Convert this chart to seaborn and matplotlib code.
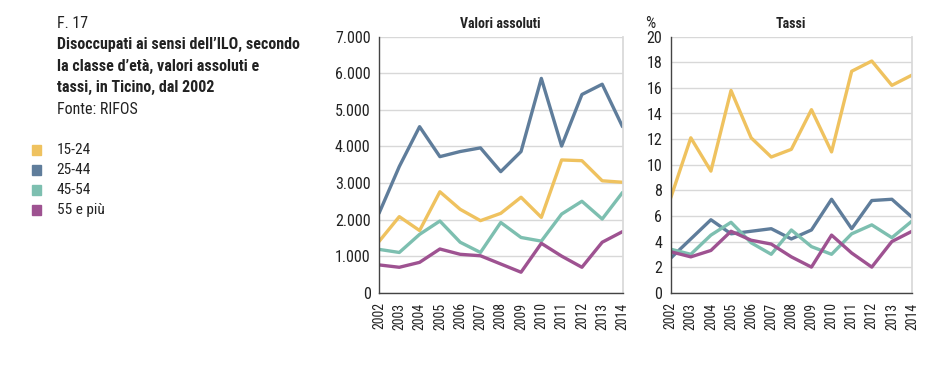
import matplotlib
matplotlib.use("Agg")
import matplotlib.pyplot as plt
import seaborn as sns
import pandas as pd
from matplotlib.ticker import FuncFormatter

years = list(range(2002, 2015))
groups = ["15-24", "25-44", "45-54", "55 e più"]

abs_15_24 = [1400, 2080, 1700, 2760, 2280, 1970, 2170, 2610, 2060, 3630, 3610, 3060, 3020]
abs_25_44 = [2170, 3450, 4540, 3720, 3860, 3960, 3310, 3860, 5860, 4010, 5420, 5700, 4540]
abs_45_54 = [1185, 1100, 1595, 1960, 1380, 1100, 1920, 1510, 1410, 2150, 2500, 2015, 2740]
abs_55 = [760, 695, 830, 1195, 1050, 1010, 785, 560, 1350, 1000, 695, 1380, 1670]

rate_15_24 = [7.4, 12.1, 9.5, 15.8, 12.1, 10.6, 11.2, 14.3, 11.0, 17.3, 18.1, 16.2, 17.0]
rate_25_44 = [2.7, 4.2, 5.7, 4.6, 4.8, 5.0, 4.2, 4.9, 7.3, 5.0, 7.2, 7.3, 5.9]
rate_45_54 = [3.4, 3.0, 4.5, 5.5, 3.9, 3.0, 4.9, 3.6, 3.0, 4.6, 5.3, 4.3, 5.6]
rate_55 = [3.2, 2.8, 3.3, 4.8, 4.1, 3.8, 2.8, 2.0, 4.5, 3.1, 2.0, 4.0, 4.8]

colors = ["#EFC25F", "#5F7D9B", "#7DBFB0", "#9E5291"]

def long(series):
    rows = []
    for g, vals in zip(groups, series):
        for y, v in zip(years, vals):
            rows.append({"anno": y, "gruppo": g, "valore": v})
    return pd.DataFrame(rows)

df_abs = long([abs_15_24, abs_25_44, abs_45_54, abs_55])
df_rate = long([rate_15_24, rate_25_44, rate_45_54, rate_55])

sns.set_theme(style="white")
plt.rcParams['font.family'] = ['Roboto Condensed', 'Liberation Sans', 'DejaVu Sans']

TXT = "#222222"
fig = plt.figure(figsize=(9.46, 3.71), dpi=100)
W, H = 946, 371

def add_ax(x0, x1, y0, y1):
    return fig.add_axes([x0 / W, 1 - y1 / H, (x1 - x0) / W, (y1 - y0) / H])

ax1 = add_ax(379, 622.5, 36.7, 292.7)
ax2 = add_ax(670.7, 912, 36.7, 292.7)

pal = dict(zip(groups, colors))
sns.lineplot(data=df_abs, x="anno", y="valore", hue="gruppo", palette=pal, ax=ax1,
             linewidth=2.4, legend=False)
sns.lineplot(data=df_rate, x="anno", y="valore", hue="gruppo", palette=pal, ax=ax2,
             linewidth=2.4, legend=False)

for ax, top, step in [(ax1, 7000, 1000), (ax2, 20, 2)]:
    ax.set_xlim(2002, 2014)
    ax.set_ylim(0, top)
    ax.set_yticks(range(0, top + 1, step))
    ax.set_xticks(years)
    ax.set_xticklabels([str(y) for y in years], rotation=90, fontsize=10, color=TXT)
    ax.tick_params(axis="y", labelsize=11.5, length=4, width=0.8, pad=2)
    ax.tick_params(axis="x", length=5, width=0.8, pad=2)
    ax.tick_params(axis="both", labelcolor=TXT, color="#444444")
    ax.grid(axis="y", color="#D8D8D8", linewidth=1)
    ax.set_axisbelow(True)
    for s in ("left", "bottom"):
        ax.spines[s].set_color("#444444")
        ax.spines[s].set_linewidth(1)
    ax.spines["right"].set_color("#D8D8D8")
    ax.spines["top"].set_visible(False)
    ax.set_xlabel("")
    ax.set_ylabel("")

ax1.yaxis.set_major_formatter(FuncFormatter(lambda v, p: "0" if v == 0 else f"{int(v):,}".replace(",", ".")))
ax1.set_title("Valori assoluti", fontsize=10, fontweight="bold", color=TXT, pad=6)
ax2.set_title("Tassi", fontsize=10, fontweight="bold", color=TXT, pad=6)
fig.text(645 / W, 1 - 23 / H, "%", fontsize=11.5, color=TXT, va="center", ha="left")

X0 = 56.5 / W
fig.text(X0, 1 - 23.5 / H, "F. 17", fontsize=11.5, color=TXT, va="center")
for i, line in enumerate(["Disoccupati ai sensi dell\u2019ILO, secondo",
                          "la classe d\u2019età, valori assoluti e",
                          "tassi, in Ticino, dal 2002"]):
    fig.text(X0, 1 - (44.5 + 21.5 * i) / H, line, fontsize=11.5, fontweight="bold",
             color=TXT, va="center")
fig.text(X0, 1 - 109 / H, "Fonte: RIFOS", fontsize=11.5, color=TXT, va="center")

for i, (g, c) in enumerate(zip(groups, colors)):
    yy = 150 + 20 * i
    fig.patches.append(plt.Rectangle((32 / W, 1 - (yy + 5) / H), 9 / W, 10 / H,
                                     transform=fig.transFigure, color=c, figure=fig))
    fig.text(X0, 1 - yy / H, g, fontsize=11, color=TXT, va="center")

fig.savefig("out.png", dpi=100)
